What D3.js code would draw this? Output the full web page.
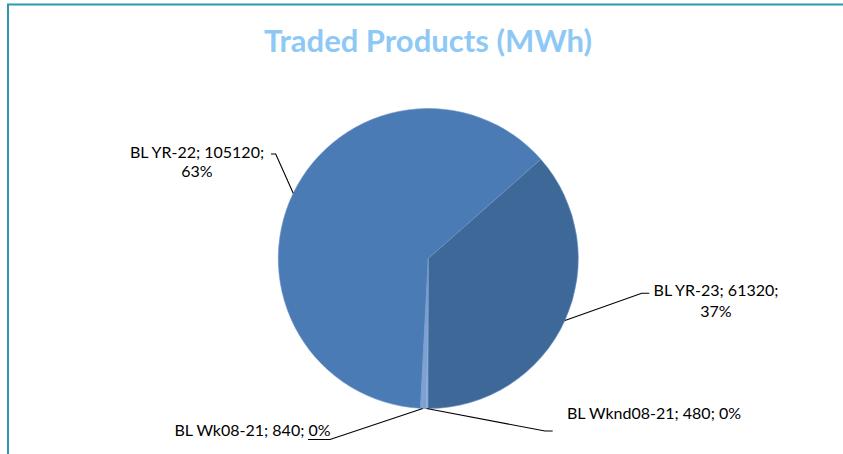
<!DOCTYPE html>
<html>
<head>
<meta charset="utf-8">
<script src="https://cdn.jsdelivr.net/npm/d3@7"></script>
<style>
  html, body { margin: 0; padding: 0; background: #ffffff; }
  svg { display: block; }
</style>
</head>
<body>
<svg id="chart" width="843" height="454"></svg>
<script>
// ---- data ----
const categories = ["BL YR-22", "BL YR-23", "BL Wknd08-21", "BL Wk08-21"];
const values = [105120, 61320, 480, 840];
const percentLabels = ["63%", "37%", "0%", "0%"];
const title = "Traded Products (MWh)";

// ---- layout ----
const W = 843, H = 454;
const cx = 428.3, cy = 258.5, R = 150;
const startDeg = 183.0;
const colors = ["#4a7bb5", "#3e6898", "#93b3dd", "#7fa2d2"];
const font = "Lato, 'Open Sans', sans-serif";

const svg = d3.select("#chart");

// frame
svg.append("line").attr("x1", 7).attr("x2", W).attr("y1", 4.5).attr("y2", 4.5)
  .attr("stroke", "#2f97b4").attr("stroke-width", 2);
svg.append("line").attr("x1", 7).attr("x2", W).attr("y1", 3.5).attr("y2", 3.5)
  .attr("stroke", "#8fd0dc").attr("stroke-width", 1);
svg.append("line").attr("x1", 8).attr("x2", 8).attr("y1", 4).attr("y2", H)
  .attr("stroke", "#2f97b4").attr("stroke-width", 2);

// title
svg.append("text").attr("x", 428).attr("y", 52)
  .attr("text-anchor", "middle")
  .attr("font-family", font).attr("font-weight", "bold").attr("font-size", 31)
  .attr("fill", "#8ec9f6").text(title);

const data = categories.map((c, i) => ({ cat: c, value: values[i], pct: percentLabels[i], color: colors[i] }));

const pie = d3.pie().sort(null).value(d => d.value)
  .startAngle(startDeg * Math.PI / 180)
  .endAngle(startDeg * Math.PI / 180 + 2 * Math.PI);
const arcs = pie(data);
const arc = d3.arc().innerRadius(0).outerRadius(R);

const g = svg.append("g").attr("transform", `translate(${cx},${cy})`);
g.selectAll("path.slice").data(arcs).enter().append("path")
  .attr("class", "slice")
  .attr("d", arc)
  .attr("fill", d => d.data.color)
  .attr("stroke", "#6f96c9").attr("stroke-width", 0.6);

// leader lines & labels (anchor positions are layout)
const labelLayout = {
  "BL YR-22":      { elbow: [275.7, 154], end: [271, 154], lines: [[197, 158], [197, 177]] },
  "BL YR-23":      { elbow: [641.7, 293.3], end: [649.3, 293.3], lines: [[716, 296], [716, 317]] },
  "BL Wknd08-21":  { elbow: [545, 431], end: [552.7, 431], lines: [[654, 419]] },
  "BL Wk08-21":    { elbow: [330, 439.5], end: [308, 439.5], lines: [[252.5, 436]] }
};

arcs.forEach(a => {
  const L = labelLayout[a.data.cat];
  const mid = (a.startAngle + a.endAngle) / 2;
  const px = cx + R * Math.sin(mid), py = cy - R * Math.cos(mid);
  svg.append("polyline")
    .attr("points", [[px, py], L.elbow, L.end].map(p => p.join(",")).join(" "))
    .attr("fill", "none").attr("stroke", "#000").attr("stroke-width", 1.1);
  const txt = L.lines.length === 2
    ? [`${a.data.cat}; ${a.data.value};`, a.data.pct]
    : [`${a.data.cat}; ${a.data.value}; ${a.data.pct}`];
  txt.forEach((t, i) => {
    svg.append("text").attr("x", L.lines[i][0]).attr("y", L.lines[i][1])
      .attr("text-anchor", "middle")
      .attr("font-family", font).attr("font-size", 16)
      .attr("fill", "#000").text(t);
  });
});
</script>
</body>
</html>
